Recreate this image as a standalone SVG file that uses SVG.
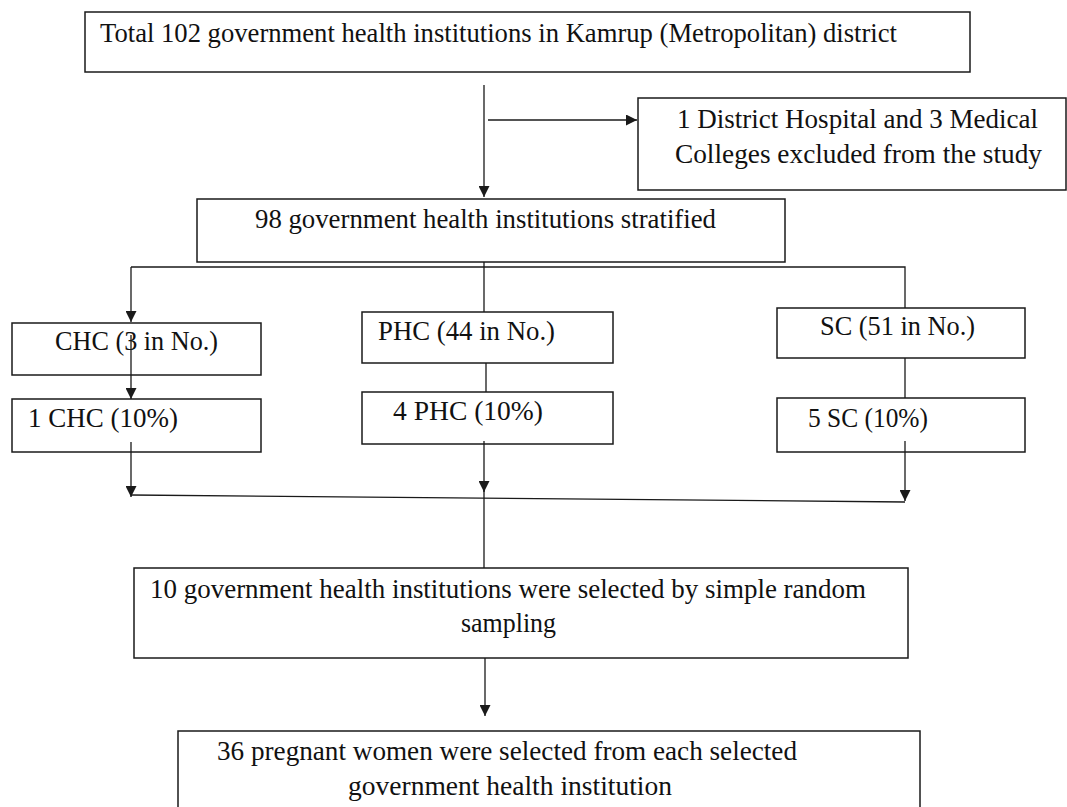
<svg xmlns="http://www.w3.org/2000/svg" width="1067" height="807" viewBox="0 0 1067 807">
<style>
.box{fill:#fff;stroke:#1a1a1a;stroke-width:1.5}
.ln{fill:none;stroke:#1a1a1a;stroke-width:1.3}
.t{font-family:"Liberation Serif","Times New Roman",serif;font-size:26.5px;fill:#111}
</style>
<defs>
<marker id="ah" viewBox="0 0 10 10" refX="10" refY="5" markerWidth="11" markerHeight="11" markerUnits="userSpaceOnUse" orient="auto">
<path d="M0,0 L10,5 L0,10 z" fill="#1a1a1a"/>
</marker>
</defs>
<rect width="1067" height="807" fill="#fff"/>
<g id="n-total">
<rect class="box" x="85" y="12" width="885" height="60"/>
<text class="t" x="100" y="41.5" textLength="797" lengthAdjust="spacingAndGlyphs">Total 102 government health institutions in Kamrup (Metropolitan) district</text>
</g>
<g id="n-excluded">
<rect class="box" x="638" y="98" width="428" height="92"/>
<text class="t" x="677" y="128" textLength="361" lengthAdjust="spacingAndGlyphs">1 District Hospital and 3 Medical</text>
<text class="t" x="675" y="163" textLength="367" lengthAdjust="spacingAndGlyphs">Colleges excluded from the study</text>
</g>
<g id="n-stratified">
<rect class="box" x="197" y="199" width="588" height="63"/>
<text class="t" x="255" y="228" textLength="461" lengthAdjust="spacingAndGlyphs">98 government health institutions stratified</text>
</g>
<g id="n-chc">
<rect class="box" x="12" y="323" width="249" height="52"/>
<text class="t" x="55" y="350" textLength="163" lengthAdjust="spacingAndGlyphs">CHC (3 in No.)</text>
</g>
<g id="n-phc">
<rect class="box" x="362" y="312" width="251" height="51"/>
<text class="t" x="378" y="340" textLength="177" lengthAdjust="spacingAndGlyphs">PHC (44 in No.)</text>
</g>
<g id="n-sc">
<rect class="box" x="777" y="308" width="248" height="50"/>
<text class="t" x="820" y="335" textLength="155" lengthAdjust="spacingAndGlyphs">SC (51 in No.)</text>
</g>
<g id="n-1chc">
<rect class="box" x="12" y="399" width="249" height="53"/>
<text class="t" x="28" y="427" textLength="150" lengthAdjust="spacingAndGlyphs">1 CHC (10%)</text>
</g>
<g id="n-4phc">
<rect class="box" x="362" y="392" width="251" height="52"/>
<text class="t" x="393" y="420" textLength="150" lengthAdjust="spacingAndGlyphs">4 PHC (10%)</text>
</g>
<g id="n-5sc">
<rect class="box" x="777" y="398" width="248" height="54"/>
<text class="t" x="808" y="427" textLength="120" lengthAdjust="spacingAndGlyphs">5 SC (10%)</text>
</g>
<g id="n-selected">
<rect class="box" x="134" y="568" width="774" height="90"/>
<text class="t" x="150" y="598" textLength="716" lengthAdjust="spacingAndGlyphs">10 government health institutions were selected by simple random</text>
<text class="t" x="461" y="632" textLength="95" lengthAdjust="spacingAndGlyphs">sampling</text>
</g>
<g id="n-women">
<rect class="box" x="178" y="731" width="742" height="90"/>
<text class="t" x="217" y="760" textLength="580" lengthAdjust="spacingAndGlyphs">36 pregnant women were selected from each selected</text>
<text class="t" x="348" y="795" textLength="324" lengthAdjust="spacingAndGlyphs">government health institution</text>
</g>
<g id="connectors">
<line class="ln" x1="484" y1="85" x2="484" y2="197" marker-end="url(#ah)"/>
<line class="ln" x1="488" y1="120" x2="637" y2="120" marker-end="url(#ah)"/>
<polyline class="ln" points="131,267 905,267 905,308"/>
<line class="ln" x1="484" y1="262" x2="484" y2="312"/>
<line class="ln" x1="131" y1="267" x2="131" y2="322" marker-end="url(#ah)"/>
<line class="ln" x1="131" y1="335" x2="131" y2="399" marker-end="url(#ah)"/>
<line class="ln" x1="486" y1="363" x2="486" y2="392"/>
<line class="ln" x1="905" y1="358" x2="905" y2="398"/>
<line class="ln" x1="131" y1="442" x2="131" y2="497" marker-end="url(#ah)"/>
<line class="ln" x1="484" y1="441" x2="484" y2="492" marker-end="url(#ah)"/>
<line class="ln" x1="905" y1="441" x2="905" y2="501" marker-end="url(#ah)"/>
<line class="ln" x1="131" y1="495" x2="905" y2="502"/>
<line class="ln" x1="484" y1="490" x2="484" y2="568"/>
<line class="ln" x1="485" y1="658" x2="485" y2="716" marker-end="url(#ah)"/>
</g>
</svg>
